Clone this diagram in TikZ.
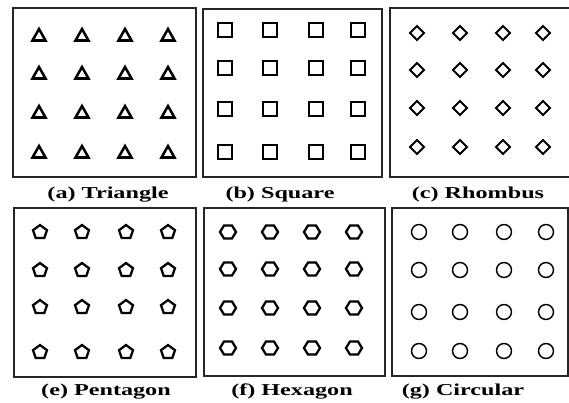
\documentclass[tikz,border=0pt]{standalone}
\usepackage{fontspec}
\setmainfont{Liberation Serif}

\tikzset{
  panel/.style={draw=black!85, line width=1.5pt},
  hole/.style={draw=black, line width=1.5pt, line join=miter},
  caption/.style={font=\bfseries\fontsize{12.5}{14}\selectfont, anchor=base, xscale=1.45, transform shape}
}

\begin{document}
\begin{tikzpicture}[x=0.75pt, y=-0.75pt]
\useasboundingbox (0,0) rectangle (569,403);

% -----------------------------
% Panels
% -----------------------------
\draw[panel] (13,8) rectangle (196,177);    % triangle
\draw[panel] (203,9) rectangle (382,177);   % square
\draw[panel] (390,8) rectangle (572,177);   % rhombus
\draw[panel] (14,208) rectangle (196,377);  % pentagon
\draw[panel] (204,208) rectangle (385,376); % hexagon
\draw[panel] (392,208) rectangle (568,376); % circular

% -----------------------------
% (a) triangles
% -----------------------------
\foreach \x in {39,82,125,168} {
  \foreach \y in {35,73,112,152} {
    \draw[hole, line width=1.9pt] (\x-6.5,\y+5.5) -- (\x,\y-6) -- (\x+6.5,\y+5.5) -- cycle;
  }
}

% (b) squares
\foreach \x in {225,270,316,358} {
  \foreach \y in {30,68,109,152} {
    \draw[hole, line width=1.1pt] (\x-7,\y-7) rectangle (\x+7,\y+7);
  }
}

% (c) rhombus
\foreach \x in {417,460,503,543} {
  \foreach \y in {33,70,108,147} {
    \draw[hole] (\x-7,\y) -- (\x,\y-7) -- (\x+7,\y) -- (\x,\y+7) -- cycle;
  }
}

% -----------------------------
% (e) pentagons
% -----------------------------
\foreach \x in {40,82,126,168} {
  \foreach \y in {232,270,307,352} {
    \draw[hole, line width=1.7pt] (\x,\y-7) -- (\x+7,\y-1.8) -- (\x+4.3,\y+6)
      -- (\x-4.3,\y+6) -- (\x-7,\y-1.8) -- cycle;
  }
}

% (f) hexagons
\foreach \x in {228,270,312,354} {
  \foreach \y in {232,269,308,348} {
    \draw[hole, line width=1.7pt] (\x-8,\y) -- (\x-4,\y-6.5) -- (\x+4,\y-6.5)
      -- (\x+8,\y) -- (\x+4,\y+6.5) -- (\x-4,\y+6.5) -- cycle;
  }
}

% (g) circles
\foreach \x in {419,460,504,546} {
  \foreach \y in {232,270,312,351} {
    \draw[hole, line width=1.1pt] (\x,\y) circle[radius=7.5];
  }
}

% -----------------------------
% Labels
% -----------------------------
\node[caption] (capa) at (108,199) {(a) Triangle};
\node[caption] (capb) at (280,199) {(b) Square};
\node[caption] (capc) at (478,199) {(c) Rhombus};
\node[caption] (cape) at (106,396) {(e) Pentagon};
\node[caption] (capf) at (292,396) {(f) Hexagon};
\node[caption] (capg) at (463,396) {(g) Circular};

\end{tikzpicture}
\end{document}
